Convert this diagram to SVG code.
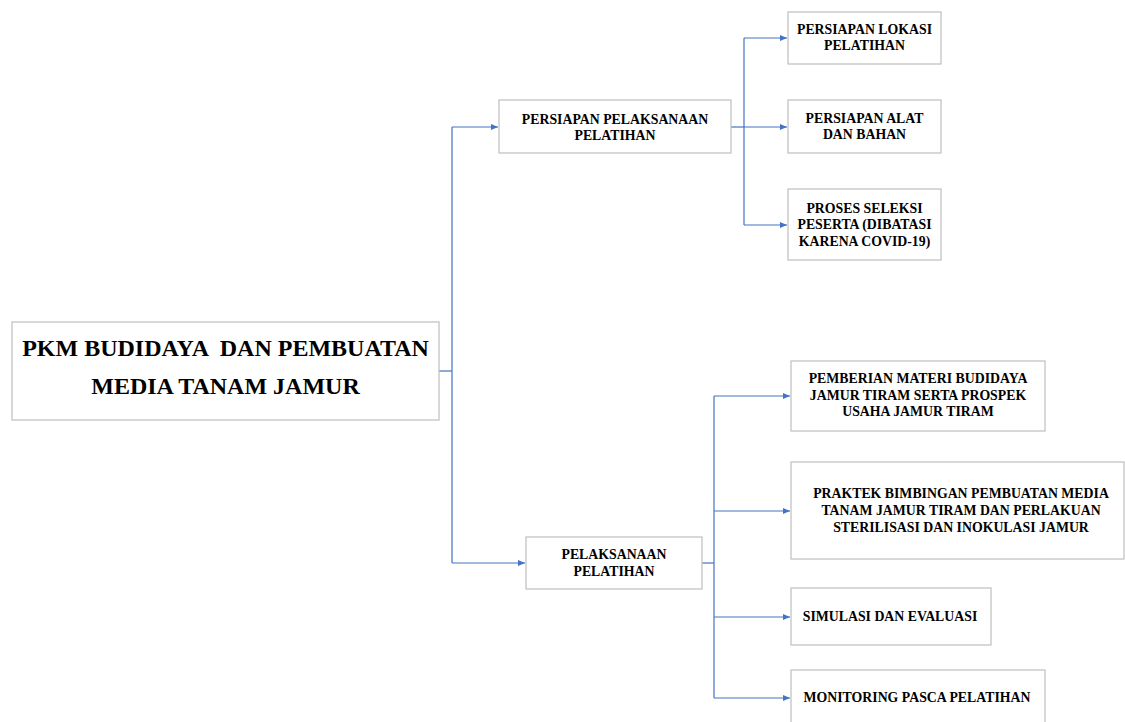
<svg xmlns="http://www.w3.org/2000/svg" width="1125" height="722" viewBox="0 0 1125 722">
<style>
.box{fill:#fff;stroke:#BFBFBF;stroke-width:1.2}
.t{font-family:"Liberation Serif","Times New Roman",serif;font-weight:bold;font-size:13.8px;fill:#000;text-anchor:middle;white-space:pre}
.big{font-size:24px}
.c{fill:none;stroke:#4472C4;stroke-width:1.2}
</style>
<defs>
<marker id="ah" markerWidth="8" markerHeight="6" refX="7" refY="3" orient="auto" markerUnits="userSpaceOnUse">
<path d="M0,0 L7,3 L0,6 Z" fill="#4472C4"/>
</marker>
</defs>
<rect width="1125" height="722" fill="#fff"/>
<g id="connectors">
<path class="c" d="M439,371 H452"/>
<path class="c" d="M452,127 V563"/>
<path class="c" d="M452,127 H498" marker-end="url(#ah)"/>
<path class="c" d="M452,563 H525" marker-end="url(#ah)"/>
<path class="c" d="M731,127 H744"/>
<path class="c" d="M744,38 V225"/>
<path class="c" d="M744,38 H787" marker-end="url(#ah)"/>
<path class="c" d="M744,127 H787" marker-end="url(#ah)"/>
<path class="c" d="M744,225 H787" marker-end="url(#ah)"/>
<path class="c" d="M702,563 H714"/>
<path class="c" d="M714,396 V698"/>
<path class="c" d="M714,396 H790" marker-end="url(#ah)"/>
<path class="c" d="M714,511 H790" marker-end="url(#ah)"/>
<path class="c" d="M714,617 H790" marker-end="url(#ah)"/>
<path class="c" d="M714,698 H790" marker-end="url(#ah)"/>
</g>
<g id="main">
<rect class="box" x="12" y="322" width="427" height="98"/>
<text class="t big" x="225.5" y="356" xml:space="preserve">PKM BUDIDAYA  DAN PEMBUATAN</text>
<text class="t big" x="225.5" y="394">MEDIA TANAM JAMUR</text>
</g>
<g id="persiapan">
<rect class="box" x="499" y="100" width="232" height="53"/>
<text class="t" x="615" y="124">PERSIAPAN PELAKSANAAN</text>
<text class="t" x="615" y="140">PELATIHAN</text>
</g>
<g id="lokasi">
<rect class="box" x="788" y="12" width="153" height="52"/>
<text class="t" x="864.5" y="34">PERSIAPAN LOKASI</text>
<text class="t" x="864.5" y="50">PELATIHAN</text>
</g>
<g id="alat">
<rect class="box" x="788" y="100" width="153" height="53"/>
<text class="t" x="864.5" y="123">PERSIAPAN ALAT</text>
<text class="t" x="864.5" y="139">DAN BAHAN</text>
</g>
<g id="seleksi">
<rect class="box" x="788" y="189" width="153" height="71"/>
<text class="t" x="864.5" y="213">PROSES SELEKSI</text>
<text class="t" x="864.5" y="229">PESERTA (DIBATASI</text>
<text class="t" x="864.5" y="246">KARENA COVID-19)</text>
</g>
<g id="pelaksanaan">
<rect class="box" x="526" y="537" width="176" height="52"/>
<text class="t" x="614" y="559">PELAKSANAAN</text>
<text class="t" x="614" y="576">PELATIHAN</text>
</g>
<g id="materi">
<rect class="box" x="791" y="361" width="254" height="70"/>
<text class="t" x="918" y="383">PEMBERIAN MATERI BUDIDAYA</text>
<text class="t" x="918" y="400">JAMUR TIRAM SERTA PROSPEK</text>
<text class="t" x="918" y="416">USAHA JAMUR TIRAM</text>
</g>
<g id="praktek">
<rect class="box" x="791" y="462" width="333" height="97"/>
<text class="t" x="961" y="498">PRAKTEK BIMBINGAN PEMBUATAN MEDIA</text>
<text class="t" x="961" y="515">TANAM JAMUR TIRAM DAN PERLAKUAN</text>
<text class="t" x="961" y="532">STERILISASI DAN INOKULASI JAMUR</text>
</g>
<g id="simulasi">
<rect class="box" x="791" y="588" width="200" height="57"/>
<text class="t" x="890" y="621">SIMULASI DAN EVALUASI</text>
</g>
<g id="monitoring">
<rect class="box" x="791" y="670" width="254" height="60"/>
<text class="t" x="917" y="702">MONITORING PASCA PELATIHAN</text>
</g>
</svg>
